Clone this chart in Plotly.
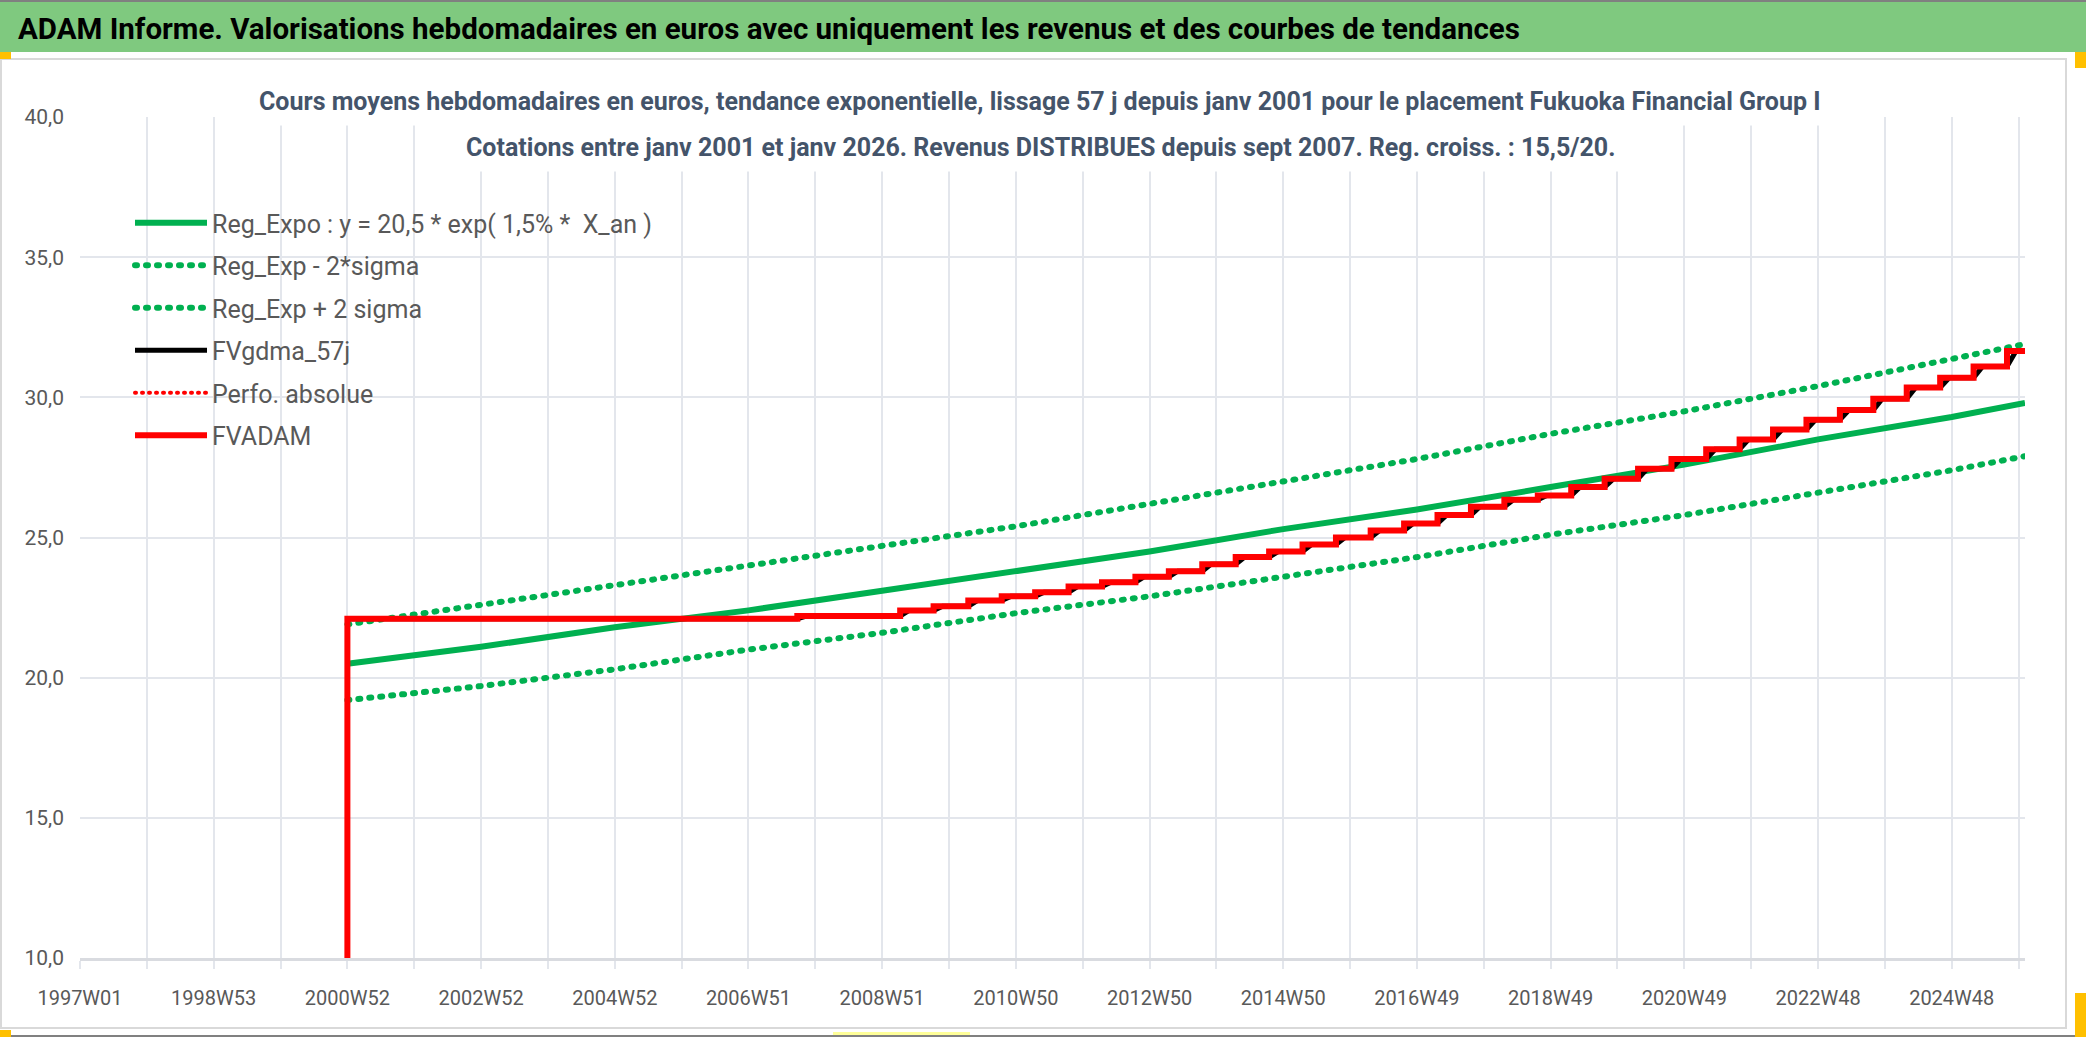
import datetime as dt
import plotly.graph_objects as go

# ---------------- data ----------------
X_TICK_LABELS = ["1997W01", "1998W53", "2000W52", "2002W52", "2004W52", "2006W51",
                 "2008W51", "2010W50", "2012W50", "2014W50", "2016W49", "2018W49",
                 "2020W49", "2022W48", "2024W48"]
FIRST_WEEK = "1997W01"
LAST_WEEK = "2026W01"

# regression curves, read at the labelled weeks
REG_WEEKS = ["2000W52", "2002W52", "2004W52", "2006W51", "2008W51", "2010W50", "2012W50",
             "2014W50", "2016W49", "2018W49", "2020W49", "2022W48", "2024W48", "2026W01"]
REG_EXPO = [20.5, 21.1, 21.8, 22.4, 23.1, 23.8, 24.5, 25.3, 26.0, 26.8, 27.6, 28.5, 29.3, 29.8]
REG_MINUS = [19.2, 19.7, 20.3, 21.0, 21.6, 22.3, 22.9, 23.6, 24.3, 25.1, 25.8, 26.6, 27.4, 27.9]
REG_PLUS = [21.9, 22.6, 23.3, 24.0, 24.7, 25.4, 26.2, 27.0, 27.8, 28.7, 29.5, 30.4, 31.4, 31.9]

# FVADAM staircase: week of each level change and level reached
FVADAM_WEEKS = ["2000W51", "2000W52", "2007W37",
                "2009W13", "2009W39", "2010W13", "2010W39", "2011W13", "2011W39",
                "2012W13", "2012W39", "2013W13", "2013W39", "2014W13", "2014W39",
                "2015W13", "2015W39", "2016W13", "2016W39", "2017W13", "2017W39",
                "2018W13", "2018W39", "2019W13", "2019W39", "2020W13", "2020W39",
                "2021W13", "2021W39", "2022W13", "2022W39", "2023W13", "2023W39",
                "2024W13", "2024W39", "2025W13", "2025W39", "2026W01"]
FVADAM_VALUES = [0.0, 22.1, 22.2,
                 22.4, 22.55, 22.75, 22.9, 23.05, 23.25,
                 23.4, 23.6, 23.8, 24.05, 24.3, 24.5,
                 24.75, 25.0, 25.25, 25.5, 25.8, 26.1,
                 26.35, 26.5, 26.8, 27.1, 27.45, 27.8,
                 28.15, 28.5, 28.85, 29.2, 29.55, 29.95,
                 30.35, 30.7, 31.1, 31.65, 31.65]

# FVgdma_57j (moving average, lags the staircase by a few weeks)
FVGDMA_WEEKS = ["2000W52", "2007W37", "2007W44",
                "2009W13", "2009W20", "2009W39", "2009W46", "2010W13", "2010W20", "2010W39", "2010W46",
                "2011W13", "2011W20", "2011W39", "2011W46", "2012W13", "2012W20", "2012W39", "2012W46",
                "2013W13", "2013W20", "2013W39", "2013W46", "2014W13", "2014W20", "2014W39", "2014W46",
                "2015W13", "2015W20", "2015W39", "2015W46", "2016W13", "2016W20", "2016W39", "2016W46",
                "2017W13", "2017W20", "2017W39", "2017W46", "2018W13", "2018W20", "2018W39", "2018W46",
                "2019W13", "2019W20", "2019W39", "2019W46", "2020W13", "2020W20", "2020W39", "2020W46",
                "2021W13", "2021W20", "2021W39", "2021W46", "2022W13", "2022W20", "2022W39", "2022W46",
                "2023W13", "2023W20", "2023W39", "2023W46", "2024W13", "2024W20", "2024W39", "2024W46",
                "2025W13", "2025W20", "2025W39", "2025W46", "2026W01"]
FVGDMA_VALUES = [22.1, 22.1, 22.2,
                 22.2, 22.4, 22.4, 22.55, 22.55, 22.75, 22.75, 22.9,
                 22.9, 23.05, 23.05, 23.25, 23.25, 23.4, 23.4, 23.6,
                 23.6, 23.8, 23.8, 24.05, 24.05, 24.3, 24.3, 24.5,
                 24.5, 24.75, 24.75, 25.0, 25.0, 25.25, 25.25, 25.5,
                 25.5, 25.8, 25.8, 26.1, 26.1, 26.35, 26.35, 26.5,
                 26.5, 26.8, 26.8, 27.1, 27.1, 27.45, 27.45, 27.8,
                 27.8, 28.15, 28.15, 28.5, 28.5, 28.85, 28.85, 29.2,
                 29.2, 29.55, 29.55, 29.95, 29.95, 30.35, 30.35, 30.7,
                 30.7, 31.1, 31.1, 31.65, 31.65]

HEADER = ("ADAM Informe. Valorisations hebdomadaires en euros avec uniquement les revenus "
          "et des courbes de tendances")
TITLE_1 = ("Cours moyens hebdomadaires en euros, tendance exponentielle, lissage 57 j depuis "
           "janv 2001 pour le placement Fukuoka Financial Group I")
TITLE_2 = "Cotations entre janv 2001 et janv 2026. Revenus DISTRIBUES depuis sept 2007. Reg. croiss. : 15,5/20."

# ---------------- helpers ----------------
ORIGIN = dt.date.fromisocalendar(1997, 1, 1)


def wk(label):
    y, w = label.split("W")
    return (dt.date.fromisocalendar(int(y), int(w), 1) - ORIGIN).days // 7


def wks(labels):
    return [wk(l) for l in labels]


W, H = 2086, 1037
ML, MR, MT, MB = 80, 61, 117, 79
PW, PH = W - ML - MR, H - MT - MB


def fx(px):
    return (px - ML) / PW


def fy(py):
    return (H - MB - py) / PH


FONT = "Roboto, sans-serif"
GREEN = "#00b050"
GRID = "#e3e6ec"

fig = go.Figure()
fig.add_trace(go.Scatter(x=wks(REG_WEEKS), y=REG_EXPO, mode="lines",
                         name="Reg_Expo : y = 20,5 * exp( 1,5% *  X_an )", legendgroup="a",
                         line=dict(color=GREEN, width=6)))
fig.add_trace(go.Scatter(x=wks(REG_WEEKS), y=REG_MINUS, mode="lines",
                         name="Reg_Exp - 2*sigma", legendgroup="b",
                         line=dict(color=GREEN, width=6, dash="2px,9px")))
fig.add_trace(go.Scatter(x=wks(REG_WEEKS), y=REG_PLUS, mode="lines",
                         name="Reg_Exp + 2 sigma", legendgroup="c",
                         line=dict(color=GREEN, width=6, dash="2px,9px")))
fig.add_trace(go.Scatter(x=wks(FVGDMA_WEEKS), y=FVGDMA_VALUES, mode="lines",
                         name="FVgdma_57j", legendgroup="d",
                         line=dict(color="black", width=5)))
fig.add_trace(go.Scatter(x=[None], y=[None], mode="lines",
                         name="Perfo. absolue", legendgroup="e",
                         line=dict(color="red", width=4, dash="1px,6px")))
fig.add_trace(go.Scatter(x=wks(FVADAM_WEEKS), y=FVADAM_VALUES, mode="lines",
                         name="FVADAM", legendgroup="f", line_shape="hv",
                         line=dict(color="red", width=6)))

shapes = [
    dict(type="rect", xref="paper", yref="paper", x0=fx(0), x1=fx(W), y0=fy(0), y1=fy(2),
         fillcolor="#808080", line_width=0),
    dict(type="rect", xref="paper", yref="paper", x0=fx(0), x1=fx(W), y0=fy(2), y1=fy(52),
         fillcolor="#7fc97f", line_width=0),
    dict(type="rect", xref="paper", yref="paper", x0=fx(1), x1=fx(2066), y0=fy(59), y1=fy(1028),
         line=dict(color="#d9d9d9", width=2)),
    dict(type="rect", xref="paper", yref="paper", x0=fx(0), x1=fx(W), y0=fy(1035), y1=fy(1037),
         fillcolor="#808080", line_width=0),
    dict(type="rect", xref="paper", yref="paper", x0=fx(833), x1=fx(970), y0=fy(1032), y1=fy(1035),
         fillcolor="#ffff99", line_width=0),
    dict(type="rect", xref="paper", yref="paper", x0=fx(0), x1=fx(11), y0=fy(52), y1=fy(59),
         fillcolor="#ffc000", line_width=0),
    dict(type="rect", xref="paper", yref="paper", x0=fx(2075), x1=fx(W), y0=fy(52), y1=fy(68),
         fillcolor="#ffc000", line_width=0),
    dict(type="rect", xref="paper", yref="paper", x0=fx(0), x1=fx(11), y0=fy(1030), y1=fy(1037),
         fillcolor="#ffc000", line_width=0),
    dict(type="rect", xref="paper", yref="paper", x0=fx(2075), x1=fx(W), y0=fy(993), y1=fy(1037),
         fillcolor="#ffc000", line_width=0),
]

annotations = [
    dict(text=HEADER, xref="paper", yref="paper", x=fx(16), y=fy(29), xanchor="left",
         yanchor="middle", showarrow=False,
         font=dict(family=FONT, size=29.5, color="black", weight="bold")),
    dict(text=TITLE_1, xref="paper", yref="paper", x=fx(1040), y=fy(101), xanchor="center",
         yanchor="middle", showarrow=False, bgcolor="white", borderpad=9,
         font=dict(family=FONT, size=25, color="#44546a", weight="bold")),
    dict(text=TITLE_2, xref="paper", yref="paper", x=fx(1040), y=fy(147), xanchor="center",
         yanchor="middle", showarrow=False, bgcolor="white", borderpad=9,
         font=dict(family=FONT, size=25, color="#44546a", weight="bold")),
]

fig.update_layout(
    width=W, height=H, autosize=False,
    margin=dict(l=ML, r=MR, t=MT, b=MB, pad=0),
    paper_bgcolor="white", plot_bgcolor="white",
    separators=", ",
    font=dict(family=FONT, color="#595959"),
    shapes=shapes, annotations=annotations,
    legend=dict(x=fx(130), y=fy(200), xanchor="left", yanchor="top",
                bgcolor="rgba(0,0,0,0)", font=dict(family=FONT, size=25, color="#595959"),
                tracegroupgap=7, itemwidth=72, traceorder="grouped"),
    xaxis=dict(range=[wk(FIRST_WEEK), wk(LAST_WEEK)], tickmode="array",
               tickvals=wks(X_TICK_LABELS), ticktext=X_TICK_LABELS,
               showgrid=True, gridcolor=GRID, gridwidth=2,
               ticks="outside", ticklen=8, tickcolor=GRID, tickwidth=2,
               minor=dict(tick0=0, dtick=52, showgrid=True, gridcolor=GRID, gridwidth=2,
                          ticks="outside", ticklen=8, tickcolor=GRID, tickwidth=2),
               showline=True, linecolor="#d9dbe0", linewidth=3, zeroline=False,
               tickfont=dict(family=FONT, size=20, color="#595959"), ticklabelstandoff=12),
    yaxis=dict(range=[10, 40], tick0=10, dtick=5, tickformat=".1f",
               showgrid=True, gridcolor=GRID, gridwidth=2, zeroline=False, showline=False,
               tickfont=dict(family=FONT, size=21, color="#595959"), ticklabelstandoff=15),
)

ROUND_DOTS = """
document.body.style.margin='0';
document.querySelectorAll('path.js-line').forEach(function(p){
  var d = p.style.strokeDasharray;
  if (d && d !== 'none') { p.style.strokeLinecap = 'round'; }
});
"""

fig.write_html("out.html", post_script=ROUND_DOTS, config={"displayModeBar": False})
